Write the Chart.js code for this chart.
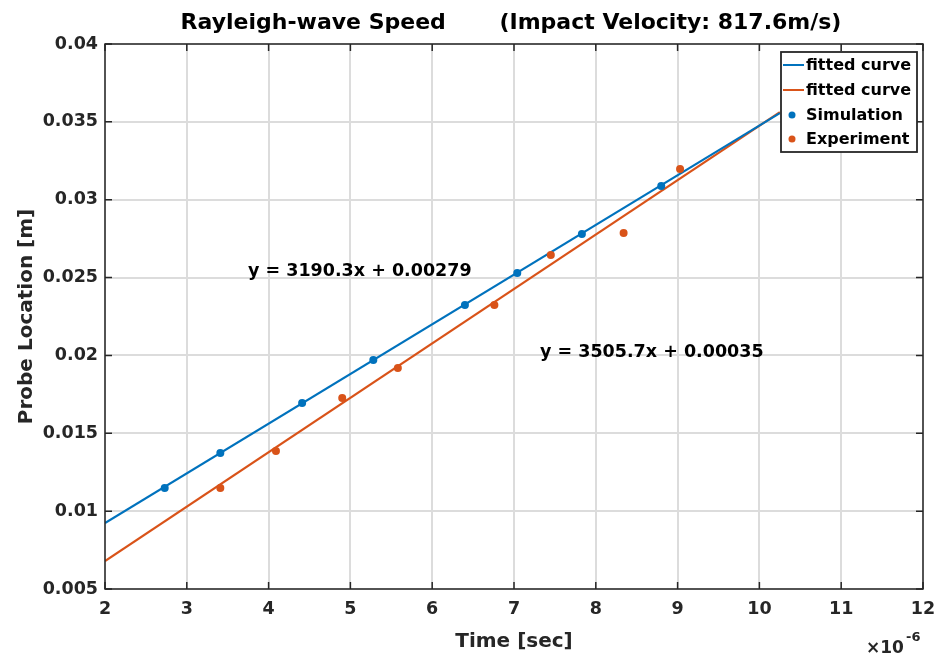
<!DOCTYPE html>
<html><head><meta charset="utf-8">
<script src="https://cdn.jsdelivr.net/npm/chart.js@4/dist/chart.umd.min.js"></script>
<style>html,body{margin:0;padding:0;background:#fff;}#wrap{width:937px;height:656px;}</style>
</head><body><div id="wrap"><canvas id="c" width="937" height="656"></canvas></div>
<script>
// ---- data (time in microseconds, location in m) ----
const simTime = [2.73, 3.41, 4.41, 5.28, 6.40, 7.04, 7.83, 8.80];
const simLoc  = [0.01149, 0.01373, 0.01694, 0.01971, 0.02324, 0.02529, 0.0278, 0.03088];
const expTime = [3.41, 4.09, 4.90, 5.58, 6.76, 7.45, 8.34, 9.03];
const expLoc  = [0.01149, 0.01386, 0.01727, 0.01919, 0.02324, 0.02645, 0.02786, 0.03197];
const fitSimTime = [2, 10.25];
const fitSimLoc  = [0.00924, 0.03556];
const fitExpTime = [2, 10.25];
const fitExpLoc  = [0.0068, 0.03563];
const xTickLabels = ['2','3','4','5','6','7','8','9','10','11','12'];
const yTickLabels = ['0.005','0.01','0.015','0.02','0.025','0.03','0.035','0.04'];
const legendLabels = ['fitted curve','fitted curve','Simulation','Experiment'];
const equationLabels = ['y = 3190.3x + 0.00279','y = 3505.7x + 0.00035'];
const titleText = 'Rayleigh-wave Speed       (Impact Velocity: 817.6m/s)';
const xTitle = 'Time [sec]';
const yTitle = 'Probe Location [m]';

const BLUE = '#0072BD', ORANGE = '#D95319', INK = '#262626';
const FONT = '"DejaVu Sans", sans-serif';

function pts(xs, ys){ return xs.map((x,i)=>({x:x, y:ys[i]})); }

const overlay = {
  id: 'overlay',
  afterDraw(chart){
    const ctx = chart.ctx, a = chart.chartArea;
    const xs = chart.scales.x, ys = chart.scales.y;
    ctx.save();
    // axes box
    ctx.strokeStyle = INK; ctx.lineWidth = 1.5;
    ctx.strokeRect(a.left, a.top, a.right - a.left, a.bottom - a.top);
    // inward ticks
    ctx.beginPath();
    xs.ticks.forEach(t => {
      const p = xs.getPixelForValue(t.value);
      ctx.moveTo(p, a.bottom); ctx.lineTo(p, a.bottom - 7);
      ctx.moveTo(p, a.top); ctx.lineTo(p, a.top + 7);
    });
    ys.ticks.forEach(t => {
      const p = ys.getPixelForValue(t.value);
      ctx.moveTo(a.left, p); ctx.lineTo(a.left + 7, p);
      ctx.moveTo(a.right, p); ctx.lineTo(a.right - 7, p);
    });
    ctx.stroke();

    ctx.fillStyle = '#000';
    // title
    ctx.font = 'bold 22px ' + FONT;
    ctx.textAlign = 'center'; ctx.textBaseline = 'alphabetic';
    ctx.fillText(titleText, (a.left + a.right) / 2 - 3, 29);
    // axis titles
    ctx.fillStyle = INK;
    ctx.font = 'bold 20px ' + FONT;
    ctx.fillText(xTitle, (a.left + a.right) / 2, 647);
    ctx.save();
    ctx.translate(32, (a.top + a.bottom) / 2);
    ctx.rotate(-Math.PI / 2);
    ctx.fillText(yTitle, 0, 0);
    ctx.restore();
    // exponent
    ctx.textAlign = 'left';
    ctx.font = 'bold 17px ' + FONT;
    ctx.fillText('\u00d710', 866, 653);
    ctx.font = 'bold 13px ' + FONT;
    ctx.fillText('-6', 906, 641);

    // equations
    ctx.fillStyle = '#000';
    ctx.font = 'bold 17.5px ' + FONT;
    ctx.fillText(equationLabels[0], 248, 276);
    ctx.fillText(equationLabels[1], 540, 357);

    // legend
    const lx = 781, ly = 52, lw = 136, lh = 100;
    ctx.fillStyle = '#fff';
    ctx.fillRect(lx, ly, lw, lh);
    ctx.strokeStyle = INK; ctx.lineWidth = 1.8;
    ctx.strokeRect(lx, ly, lw, lh);
    const rows = [65, 90, 115, 139];
    const cols = [BLUE, ORANGE, BLUE, ORANGE];
    ctx.font = 'bold 16px ' + FONT;
    ctx.textBaseline = 'middle';
    rows.forEach((ry, i) => {
      if (i < 2) {
        ctx.strokeStyle = cols[i]; ctx.lineWidth = 2;
        ctx.beginPath(); ctx.moveTo(783, ry); ctx.lineTo(804, ry); ctx.stroke();
      } else {
        ctx.fillStyle = cols[i];
        ctx.beginPath(); ctx.arc(792, ry, 3.5, 0, Math.PI * 2); ctx.fill();
      }
      ctx.fillStyle = '#000';
      ctx.fillText(legendLabels[i], 806, ry + 1);
    });
    ctx.restore();
  }
};

new Chart(document.getElementById('c'), {
  type: 'scatter',
  data: {
    datasets: [
      { label: legendLabels[2], data: pts(simTime, simLoc), backgroundColor: BLUE, borderColor: BLUE, pointRadius: 4, pointBorderWidth: 0, showLine: false },
      { label: legendLabels[3], data: pts(expTime, expLoc), backgroundColor: ORANGE, borderColor: ORANGE, pointRadius: 4, pointBorderWidth: 0, showLine: false },
      { label: legendLabels[0], data: pts(fitSimTime, fitSimLoc), borderColor: BLUE, backgroundColor: BLUE, borderWidth: 2.2, pointRadius: 0, showLine: true },
      { label: legendLabels[1], data: pts(fitExpTime, fitExpLoc), borderColor: ORANGE, backgroundColor: ORANGE, borderWidth: 2.2, pointRadius: 0, showLine: true }
    ]
  },
  options: {
    responsive: false,
    animation: false,
    devicePixelRatio: 1,
    layout: { padding: { top: 44, right: 14, left: 0, bottom: 0 } },
    plugins: { legend: { display: false }, tooltip: { enabled: false }, title: { display: false } },
    scales: {
      x: {
        type: 'linear', min: 2, max: 12,
        afterFit(s){ s.height = 67; s.paddingLeft = 0; s.paddingRight = 0; },
        afterBuildTicks(s){ s.ticks = xTickLabels.map(v => ({ value: Number(v) })); },
        ticks: { callback: (v, i) => xTickLabels[i], color: INK, padding: 10, font: { family: FONT, size: 17.5, weight: 'bold' }, maxRotation: 0 },
        grid: { color: '#dcdcdc', lineWidth: 2, drawTicks: false },
        border: { display: false }
      },
      y: {
        type: 'linear', min: 0.005, max: 0.04,
        afterFit(s){ s.width = 105; s.paddingTop = 0; s.paddingBottom = 0; },
        afterBuildTicks(s){ s.ticks = yTickLabels.map(v => ({ value: Number(v) })); },
        ticks: { callback: (v, i) => yTickLabels[i], color: INK, padding: 7, font: { family: FONT, size: 17.5, weight: 'bold' } },
        grid: { color: '#dcdcdc', lineWidth: 2, drawTicks: false },
        border: { display: false }
      }
    }
  },
  plugins: [overlay]
});
</script>
</body></html>
